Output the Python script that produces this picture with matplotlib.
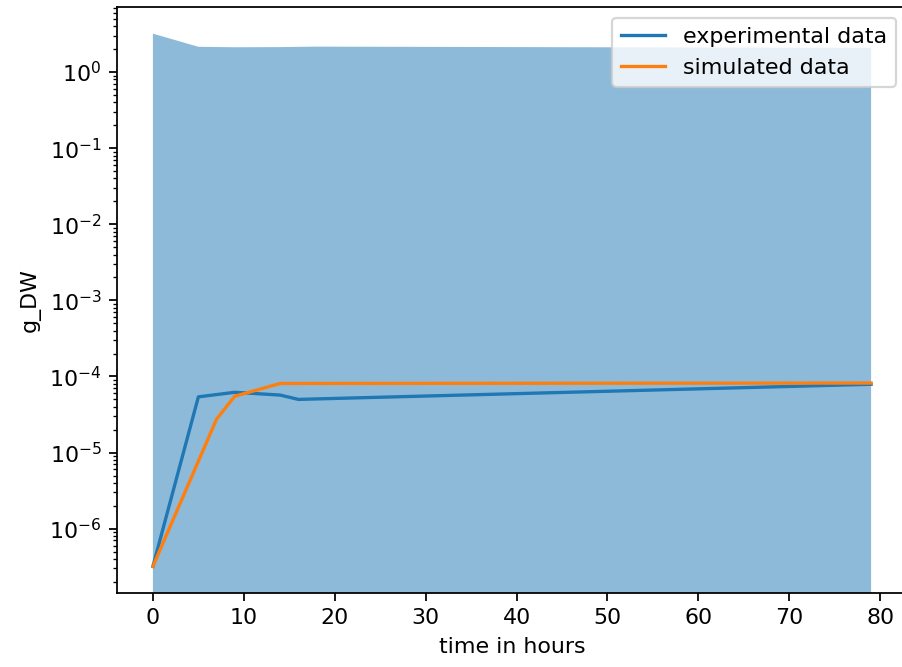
import matplotlib
matplotlib.use('Agg')
import matplotlib.pyplot as plt
import numpy as np

# values
t_exp = [0, 5, 9, 14, 16, 79]
g_exp = [3.2e-7, 5.4e-5, 6.2e-5, 5.7e-5, 5.0e-5, 7.9e-5]

t_sim = [0, 7, 9, 14, 79]
g_sim = [3.2e-7, 2.75e-5, 5.5e-5, 8.1e-5, 8.2e-5]

t_band = [0, 5, 9, 14, 18, 79]
band_low = [0, 0, 0, 0, 0, 0]
band_high = [3.2, 2.15, 2.12, 2.13, 2.16, 2.08]

dpi = 159
fig = plt.figure(figsize=(902 / dpi, 667 / dpi), dpi=dpi)
ax = fig.add_axes([117 / 902, 1 - 593 / 667, 790 / 902, 586 / 667])

ax.fill_between(t_band, band_low, band_high, alpha=0.5)
ax.plot(t_exp, g_exp, label="experimental data")
ax.plot(t_sim, g_sim, label="simulated data")
ax.set_yscale('log')
ax.set_xlabel("time in hours")
ax.set_ylabel("g_DW")
ax.legend(loc='upper right')

fig.savefig("out.png", dpi=dpi)
